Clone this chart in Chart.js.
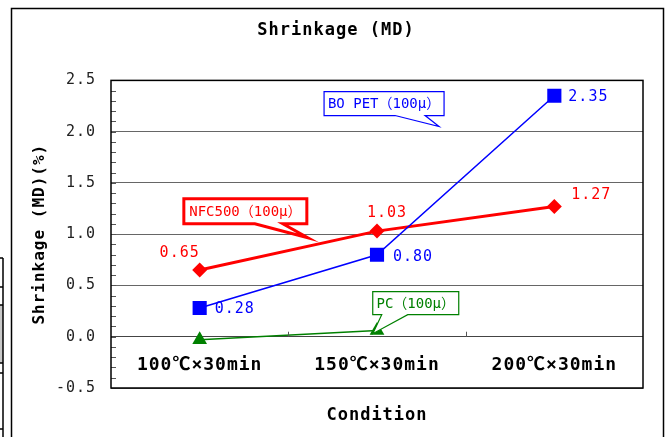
<!DOCTYPE html>
<html>
<head>
<meta charset="utf-8">
<script src="https://cdn.jsdelivr.net/npm/chart.js@4"></script>
<style>
  html, body { margin: 0; padding: 0; background: #fff; }
  #chart { display: block; }
</style>
</head>
<body>
<canvas id="chart" width="672" height="437"></canvas>
<script>
// data
const categories = ['100℃×30min', '150℃×30min', '200℃×30min'];
const boPet = [0.28, 0.80, 2.35];
const nfc500 = [0.65, 1.03, 1.27];
const pc = [-0.03, 0.06, null];
const yMin = -0.5;
const yMax = 2.5;
const yStep = 0.5;
const xTitle = 'Condition';

const MONO = "'DejaVu Sans Mono', 'Noto Sans CJK JP', monospace";

// value labels : offsets from the marker (px)
const labelStyle = [
  { color: '#0000ff', align: 'left', offsets: [[15, 1], [16, 2], [14, 1]] },
  { color: '#ff0000', align: 'center', offsets: [[-20, -17], [10, -18], [37, -11]] }
];

// callout boxes (tip in data units, box relative to tip in px)
const callouts = [
  { text: 'BO PET（100μ）', color: '#0000ff', lw: 1.2, tip: [1.35, 2.05], box: [-115, -35, 120, 24], base: [71, 101] },
  { text: 'NFC500（100μ）', color: '#ff0000', lw: 3, tip: [0.61, 0.965], box: [-124, -39, 123, 25], base: [71, 99] },
  { text: 'PC（100μ）', color: '#008000', lw: 1.2, tip: [0.976, 0.03], box: [0, -42, 86, 23], base: [9, 35] }
];

// white page, outer frame, bit of the sheet on the left
const framePlugin = {
  id: 'frame',
  beforeDraw(chart) {
    const ctx = chart.ctx;
    ctx.save();
    ctx.fillStyle = '#fff';
    ctx.fillRect(0, 0, chart.width, chart.height);
    ctx.fillStyle = '#c8c8c8';
    ctx.fillRect(0, 305, 3, 58);
    ctx.strokeStyle = '#000';
    ctx.lineWidth = 1.5;
    ctx.beginPath();
    ctx.moveTo(3, 258); ctx.lineTo(3, 437);
    [258, 287, 305, 363, 373, 429].forEach(y => { ctx.moveTo(0, y); ctx.lineTo(3, y); });
    ctx.stroke();
    ctx.strokeRect(11.5, 8.5, 652, 440);
    ctx.restore();
    // wider spacing like the original gothic font
    ctx.letterSpacing = '1px';
  }
};

const decorPlugin = {
  id: 'decor',
  afterDatasetsDraw(chart) {
    const ctx = chart.ctx;
    const a = chart.chartArea;
    const xs = chart.scales.x;
    const ys = chart.scales.y;
    ctx.save();

    // minor ticks on the value axis
    ctx.strokeStyle = '#000';
    ctx.lineWidth = 1;
    ctx.beginPath();
    for (let v = yMin; v <= yMax + 1e-9; v += 0.1) {
      const y = Math.round(ys.getPixelForValue(v)) + 0.5;
      ctx.moveTo(a.left, y);
      ctx.lineTo(a.left + 5, y);
    }
    // category marks on the zero line
    const y0 = ys.getPixelForValue(0);
    for (let i = 0; i < categories.length - 1; i++) {
      const x = Math.round(xs.getPixelForValue(i + 0.5)) + 0.5;
      ctx.moveTo(x, y0 - 5);
      ctx.lineTo(x, y0);
    }
    ctx.strokeStyle = '#555';
    ctx.stroke();

    // plot border
    ctx.strokeStyle = '#000';
    ctx.lineWidth = 1.5;
    ctx.strokeRect(a.left, a.top, a.right - a.left, a.bottom - a.top);

    // axis title under the plot
    ctx.fillStyle = '#000';
    ctx.font = 'bold 17px ' + MONO;
    ctx.textAlign = 'center';
    ctx.textBaseline = 'middle';
    ctx.fillText(xTitle, (a.left + a.right) / 2, a.bottom + 28);

    // value labels
    ctx.font = '15px ' + MONO;
    labelStyle.forEach((st, di) => {
      const meta = chart.getDatasetMeta(di);
      const vals = chart.data.datasets[di].data;
      ctx.fillStyle = st.color;
      ctx.textAlign = st.align;
      meta.data.forEach((pt, j) => {
        if (vals[j] == null) return;
        const o = st.offsets[j];
        ctx.fillText(vals[j].toFixed(2), pt.x + o[0], pt.y + o[1]);
      });
    });

    // callouts
    ctx.letterSpacing = '0px';
    ctx.font = '14px ' + MONO;
    ctx.textAlign = 'center';
    callouts.forEach(c => {
      const tx = xs.getPixelForValue(c.tip[0]);
      const ty = ys.getPixelForValue(c.tip[1]);
      const bx = tx + c.box[0], by = ty + c.box[1], bw = c.box[2], bh = c.box[3];
      ctx.beginPath();
      ctx.moveTo(bx, by);
      ctx.lineTo(bx + bw, by);
      ctx.lineTo(bx + bw, by + bh);
      ctx.lineTo(bx + c.base[1], by + bh);
      ctx.lineTo(tx, ty);
      ctx.lineTo(bx + c.base[0], by + bh);
      ctx.lineTo(bx, by + bh);
      ctx.closePath();
      ctx.fillStyle = '#fff';
      ctx.fill();
      ctx.lineWidth = c.lw;
      ctx.strokeStyle = c.color;
      ctx.lineJoin = 'miter';
      ctx.stroke();
      ctx.fillStyle = c.color;
      ctx.fillText(c.text, bx + bw / 2, by + bh / 2 + 1);
    });

    ctx.restore();
  }
};

new Chart(document.getElementById('chart'), {
  type: 'line',
  data: {
    labels: categories,
    datasets: [
      {
        label: 'BO PET(100μ)',
        data: boPet,
        borderColor: '#0000ff',
        backgroundColor: '#0000ff',
        borderWidth: 1.5,
        pointStyle: 'rect',
        pointRadius: 10,
        pointBorderWidth: 0
      },
      {
        label: 'NFC500(100μ)',
        data: nfc500,
        borderColor: '#ff0000',
        backgroundColor: '#ff0000',
        borderWidth: 3,
        pointStyle: 'rectRot',
        pointRadius: 7.5,
        pointBorderWidth: 0
      },
      {
        label: 'PC(100μ)',
        data: pc,
        borderColor: '#008000',
        backgroundColor: '#008000',
        borderWidth: 1.5,
        pointStyle: 'triangle',
        pointRadius: 8.5,
        pointBorderWidth: 0
      }
    ]
  },
  options: {
    responsive: false,
    animation: false,
    layout: { padding: { left: 15, right: 15, top: 0, bottom: 49 } },
    plugins: {
      legend: { display: false },
      tooltip: { enabled: false },
      title: {
        display: true,
        text: 'Shrinkage (MD)',
        color: '#000',
        font: { family: MONO, size: 17, weight: 'bold' },
        padding: { top: 20, bottom: 40 }
      }
    },
    scales: {
      x: {
        position: { y: 0 },
        offset: true,
        grid: { display: false },
        border: { display: false },
        ticks: {
          color: '#000',
          font: { family: MONO, size: 18, weight: 'bold' },
          padding: 10,
          maxRotation: 0,
          autoSkip: false
        }
      },
      y: {
        min: yMin,
        max: yMax,
        afterFit(s) { s.width = 96; },
        border: { display: false },
        grid: {
          drawTicks: false,
          color: c => (c.tick && c.tick.value === 0 ? '#444' : '#666'),
          lineWidth: 1
        },
        ticks: {
          stepSize: yStep,
          padding: 15,
          color: '#222',
          font: { family: MONO, size: 15 },
          callback: v => v.toFixed(1)
        },
        title: {
          display: true,
          text: 'Shrinkage (MD)(%)',
          color: '#000',
          font: { family: MONO, size: 16, weight: 'bold' },
          padding: { top: 15 }
        }
      },
      // empty strip on the right of the plot
      y2: {
        position: 'right',
        display: true,
        afterFit(s) { s.width = 14; },
        grid: { display: false },
        border: { display: false },
        ticks: { display: false }
      }
    }
  },
  plugins: [framePlugin, decorPlugin]
});
</script>
</body>
</html>
